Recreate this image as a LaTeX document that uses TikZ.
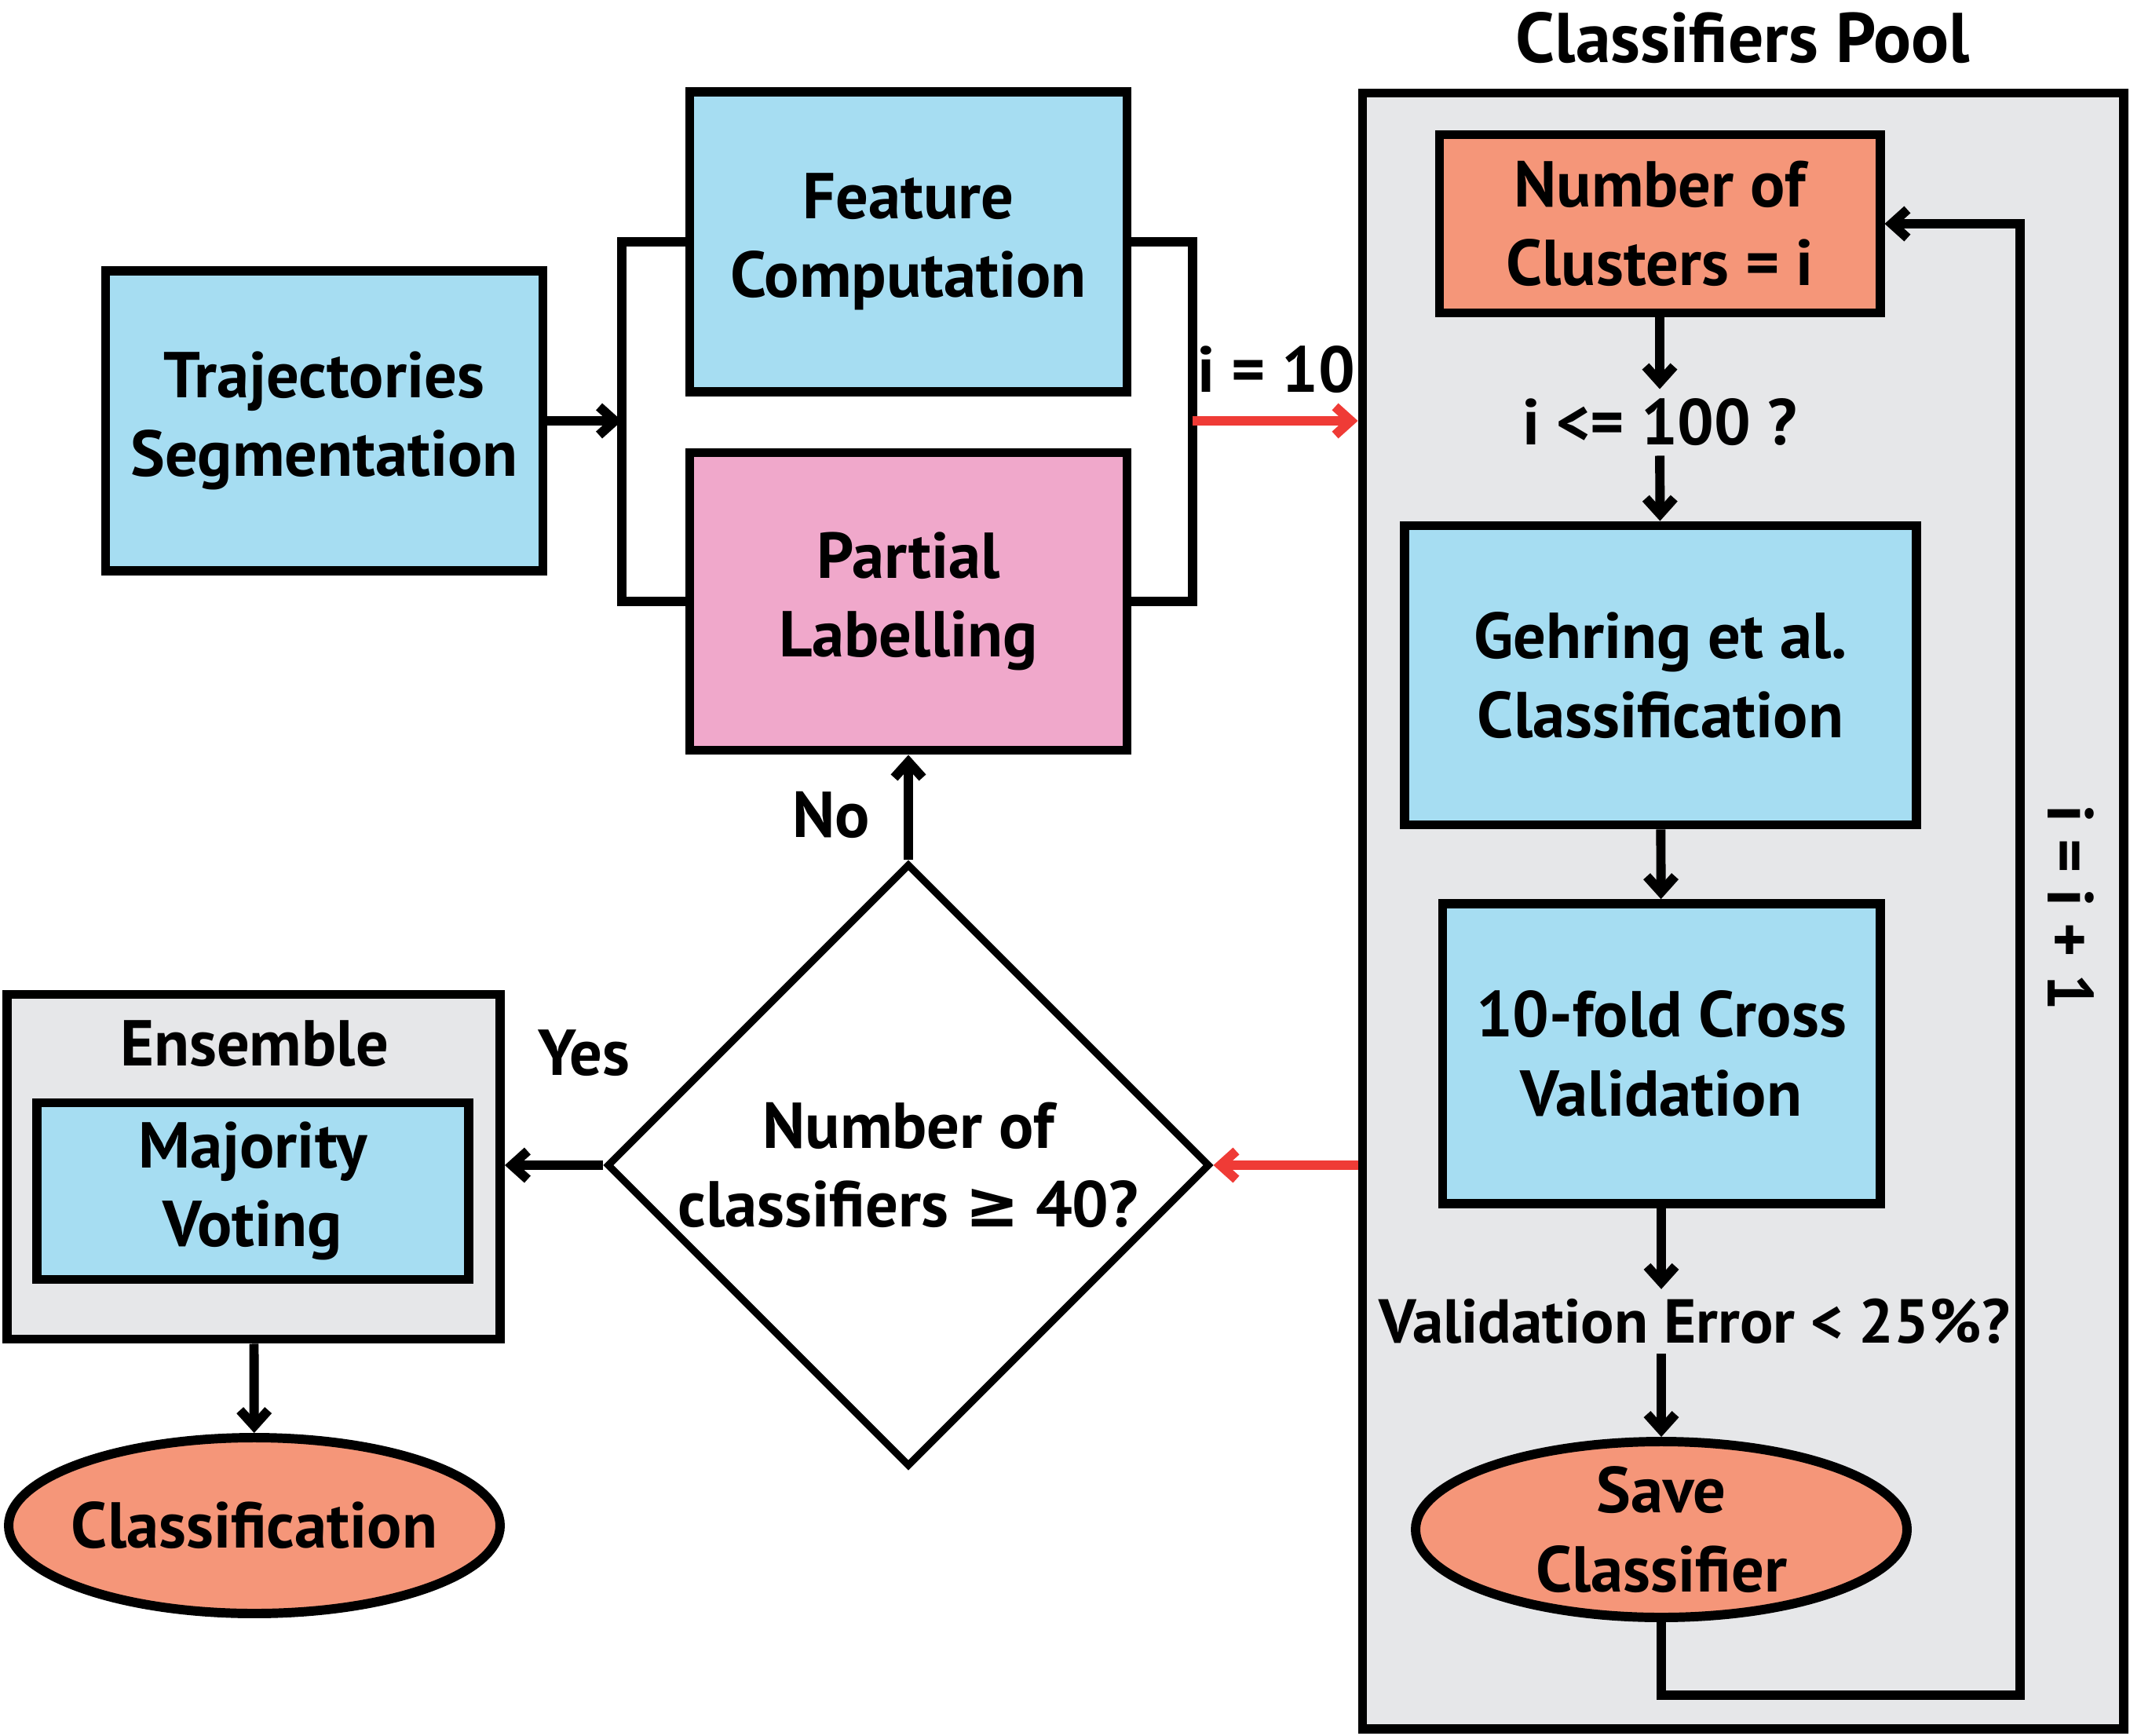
\documentclass[tikz,border=0pt]{standalone}
\usepackage{fontspec}
\setmainfont{PT Sans}
\newfontfamily\symfont{DejaVu Sans}
\usetikzlibrary{arrows.meta,shapes.geometric}
\definecolor{boxblue}{HTML}{A6DDF2}
\definecolor{boxpink}{HTML}{F0A8CB}
\definecolor{boxsalmon}{HTML}{F59679}
\definecolor{poolgray}{HTML}{E6E7E9}
\definecolor{arrowred}{HTML}{EF3B36}
\tikzset{>={Straight Barb[length=2mm,width=3.6mm]}}
\tikzset{
  txt/.style={font=\fontsize{23.5}{28.5}\selectfont\bfseries,align=center},
  proc/.style={txt,draw,line width=3.4pt,minimum width=5.57cm,minimum height=3.82cm,inner sep=0pt},
  term/.style={txt,draw,ellipse,line width=3.4pt,fill=boxsalmon,minimum width=6.26cm,minimum height=2.24cm,inner sep=-12pt},
  frame/.style={draw,line width=3.4pt,fill=poolgray},
  link/.style={line width=3.4pt},
}

\begin{document}
\begin{tikzpicture}
                \useasboundingbox (0,0) rectangle (27.13,-22.11);
                \node[frame,minimum width=9.69cm,minimum height=20.83cm] (pool) at (22.2,-11.6) {};
                \node[txt,font=\fontsize{25.5}{30}\selectfont\bfseries] (pooltitle) at (22.2,-0.48) {Classifiers Pool};
                \node[frame,minimum width=6.28cm,minimum height=4.39cm] (ens) at (3.23,-14.86) {};
                \node[txt] (enstitle) at (3.24,-13.29) {Ensemble};
                \node[proc,fill=boxblue] (traj) at (4.13,-5.36) {Trajectories\\Segmentation};
                \node[proc,fill=boxblue] (feat) at (11.57,-3.08) {Feature\\Computation};
                \node[proc,fill=boxpink,minimum height=3.79cm] (part) at (11.57,-7.66) {Partial\\Labelling};
                \node[proc,fill=boxsalmon,minimum width=5.61cm,minimum height=2.27cm] (num) at (21.14,-2.85) {Number of\\Clusters = i};
                \node[txt] (cond) at (21.14,-5.38) {i <= 100 ?};
                \node[proc,fill=boxblue,minimum width=6.52cm,minimum height=3.81cm] (gehr) at (21.15,-8.60) {Gehring et al.\\Classification};
                \node[proc,fill=boxblue] (cross) at (21.16,-13.42) {10-fold Cross\\Validation};
                \node[txt,font=\fontsize{22.5}{28.5}\selectfont\bfseries] (err) at (21.58,-16.83) {Validation Error < 25\%?};
                \node[term] (save) at (21.16,-19.48) {Save\\Classifier};
                \node[txt,rotate=-90] (incr) at (26.38,-11.56) {i = i + 1};
                \node[txt,draw,diamond,aspect=1,line width=2.6pt,fill=white,minimum width=7.68cm,minimum height=7.68cm,inner sep=0pt] (dec) at (11.57,-14.84) {Number of\\classifiers {\symfont ≥} 40?};
                \node[proc,fill=boxblue,minimum width=5.50cm,minimum height=2.25cm] (vote) at (3.22,-15.17) {Majority\\Voting};
                \node[term] (cls) at (3.24,-19.43) {Classification};
                \node[txt] (no) at (10.59,-10.38) {No};
                \node[txt] (yes) at (7.44,-13.41) {Yes};
                \node[txt] (init) at (16.26,-4.71) {i = 10};
                \coordinate (lb) at (7.92,-5.36);
                \coordinate (rb) at (15.19,-5.36);
                \coordinate (loop) at (25.73,-21.59);
                \draw[->,link] (traj) -- (lb);
                \draw[link] (feat.west) -| (lb) |- (part.west);
                \draw[link] (feat.east) -| (rb) |- (part.east);
                \draw[->,link,arrowred] (rb) -- (rb -| pool.west);
                \draw[->,link] (num) -- (cond);
                \draw[->,link] (cond) -- (gehr);
                \draw[->,link] (gehr) -- (cross);
                \draw[->,link] (cross) -- (cross |- err.north);
                \draw[->,link] (save |- err.south) -- (save);
                \draw[->,link] (save.south) |- (loop) |- (num.east);
                \draw[->,link,arrowred] (dec -| pool.west) -- (dec.east);
                \draw[->,link] (dec.north) -- (part);
                \draw[->,link] (dec.west) -- (ens.east |- dec);
                \draw[->,link] (ens) -- (cls);
            \end{tikzpicture}
\end{document}
